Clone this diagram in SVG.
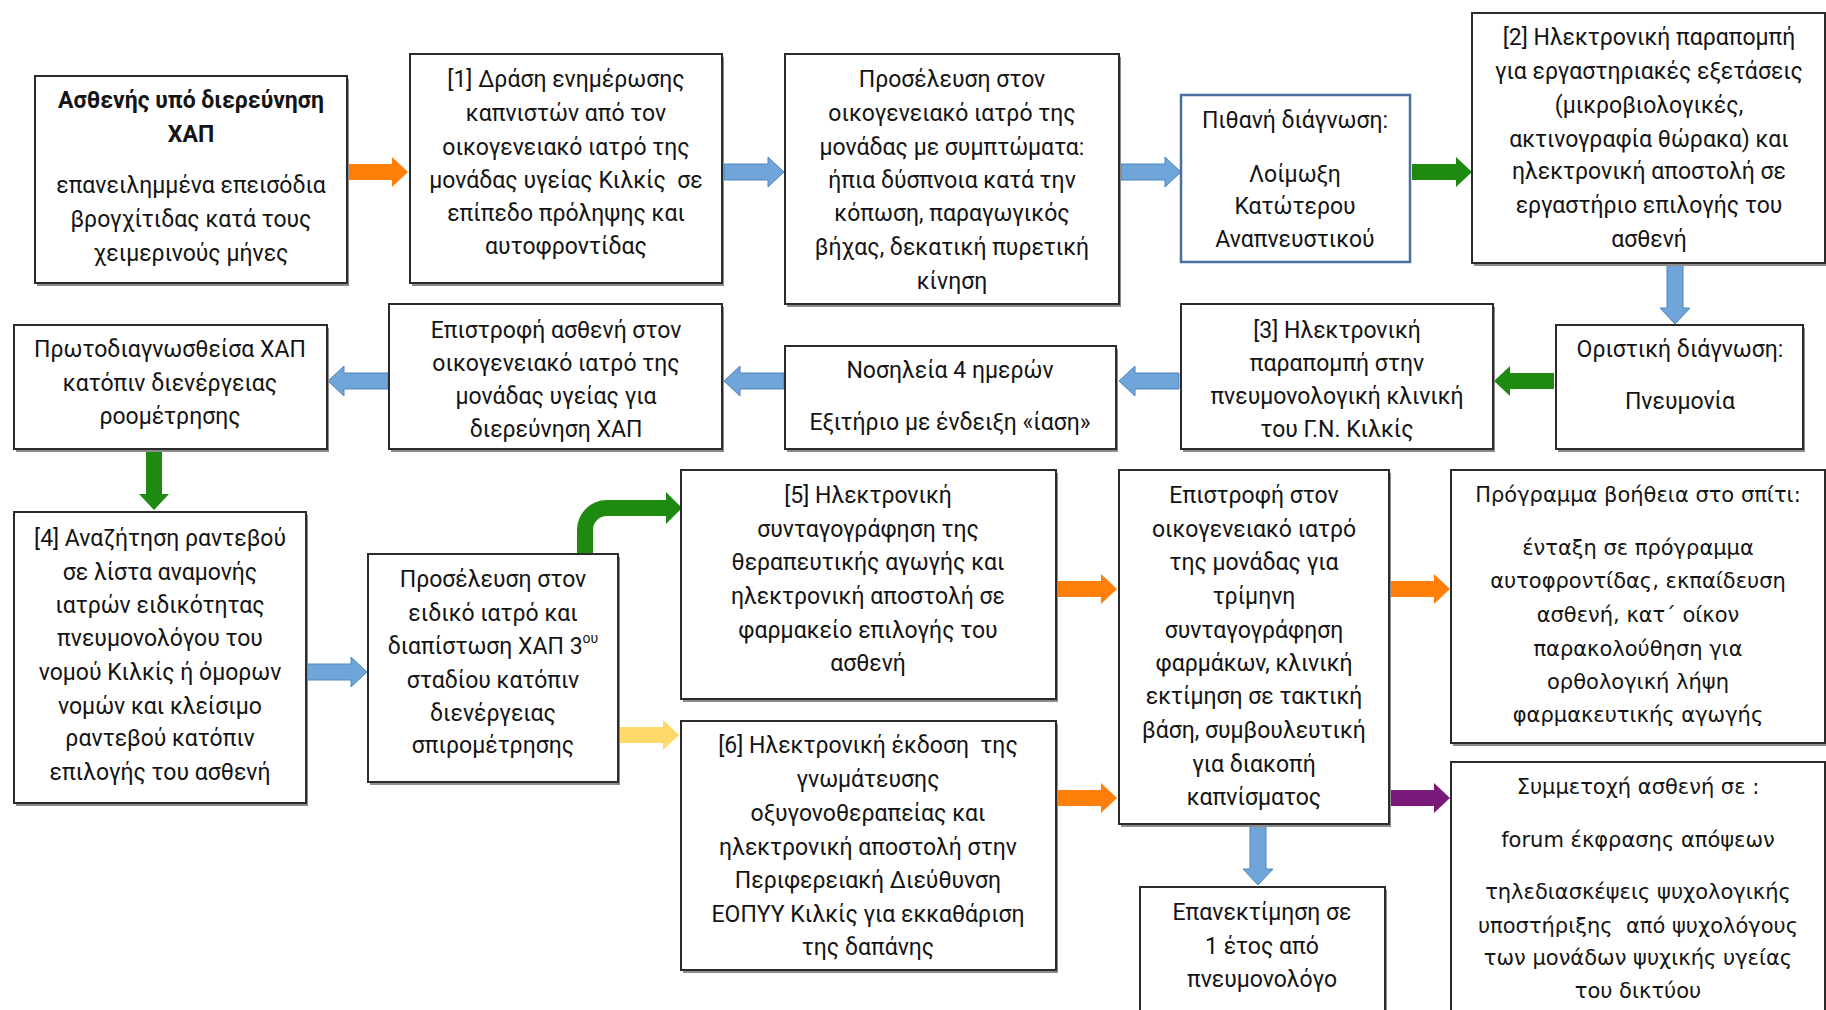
<svg xmlns="http://www.w3.org/2000/svg" xmlns:xlink="http://www.w3.org/1999/xlink" width="1826" height="1010" viewBox="0 0 1826 1010">
<defs>
<path id="arr" d="M0,-8 H44 V-15 L60,0 L44,15 V8 H0 Z"/>
<style>
.bx{fill:#fff;stroke:#2b2b2b;stroke-width:2}
.sh{fill:#8c8c8c}
.bxd{fill:#fff;stroke:#4a6fa0;stroke-width:2.5}
text{font-family:Roboto,"Noto Sans",sans-serif;font-size:23px;fill:#141414;text-anchor:middle;dominant-baseline:central}
.v{font-family:"DejaVu Sans",Verdana,sans-serif;font-size:21px}
.b{font-weight:bold}
.or{fill:#ff7f0a}
.bl{fill:#6fa5d8;stroke:#4f86bd;stroke-width:1}
.gr{fill:#1f8a10}
.ye{fill:#ffd86a}
.pu{fill:#7a1b7c}
</style>
</defs>
<rect width="1826" height="1010" fill="#fff"/>

<g id="connectors">
<use xlink:href="#arr" class="or" transform="translate(348,172)"/>
<use xlink:href="#arr" class="bl" transform="translate(724,172)"/>
<use xlink:href="#arr" class="bl" transform="translate(1121,172)"/>
<use xlink:href="#arr" class="gr" transform="translate(1412,172)"/>
<use xlink:href="#arr" class="bl" transform="translate(1675,264) rotate(90)"/>
<use xlink:href="#arr" class="gr" transform="translate(1554,381) rotate(180)"/>
<use xlink:href="#arr" class="bl" transform="translate(1179,381) rotate(180)"/>
<use xlink:href="#arr" class="bl" transform="translate(784,381) rotate(180)"/>
<use xlink:href="#arr" class="bl" transform="translate(388,381) rotate(180)"/>
<use xlink:href="#arr" class="gr" transform="translate(154,450) rotate(90)"/>
<use xlink:href="#arr" class="bl" transform="translate(307,672)"/>
<path d="M585,556 V530 A22,22 0 0 1 607,508 H668" fill="none" stroke="#1f8a10" stroke-width="16"/>
<polygon points="666,492 682,508 666,524" class="gr"/>
<use xlink:href="#arr" class="ye" transform="translate(619,735)"/>
<use xlink:href="#arr" class="or" transform="translate(1057,589)"/>
<use xlink:href="#arr" class="or" transform="translate(1057,798)"/>
<use xlink:href="#arr" class="or" transform="translate(1390,589)"/>
<use xlink:href="#arr" class="pu" transform="translate(1390,798)"/>
<use xlink:href="#arr" class="bl" transform="translate(1258,825) rotate(90)"/>
</g>

<g id="nA">
<rect class="sh" x="37" y="79" width="312" height="207"/>
<rect class="bx" x="35" y="76" width="312" height="207"/>
<text class="b" x="191" y="100">Ασθενής υπό διερεύνηση</text>
<text class="b" x="191" y="134">ΧΑΠ</text>
<text x="191" y="185">επανειλημμένα επεισόδια</text>
<text x="191" y="219">βρογχίτιδας κατά τους</text>
<text x="191" y="253">χειμερινούς μήνες</text>
</g>

<g id="nB">
<rect class="sh" x="412" y="57" width="312" height="229"/>
<rect class="bx" x="410" y="54" width="312" height="229"/>
<text x="566" y="79">[1] Δράση ενημέρωσης</text>
<text x="566" y="113">καπνιστών από τον</text>
<text x="566" y="147">οικογενειακό ιατρό της</text>
<text x="566" y="180" xml:space="preserve">μονάδας υγείας Κιλκίς  σε</text>
<text x="566" y="213">επίπεδο πρόληψης και</text>
<text x="566" y="246">αυτοφροντίδας</text>
</g>

<g id="nC">
<rect class="sh" x="787" y="57" width="334" height="250"/>
<rect class="bx" x="785" y="54" width="334" height="250"/>
<text x="952" y="79">Προσέλευση στον</text>
<text x="952" y="113">οικογενειακό ιατρό της</text>
<text x="952" y="147">μονάδας με συμπτώματα:</text>
<text x="952" y="180">ήπια δύσπνοια κατά την</text>
<text x="952" y="213">κόπωση, παραγωγικός</text>
<text x="952" y="247">βήχας, δεκατική πυρετική</text>
<text x="952" y="281">κίνηση</text>
</g>

<g id="nD">
<rect class="bxd" x="1181" y="95" width="229" height="167"/>
<text x="1295" y="120">Πιθανή διάγνωση:</text>
<text x="1295" y="174">Λοίμωξη</text>
<text x="1295" y="206">Κατώτερου</text>
<text x="1295" y="239">Αναπνευστικού</text>
</g>

<g id="nE">
<rect class="sh" x="1474" y="16" width="352" height="250"/>
<rect class="bx" x="1472" y="13" width="353" height="250"/>
<text x="1649" y="37">[2] Ηλεκτρονική παραπομπή</text>
<text x="1649" y="71">για εργαστηριακές εξετάσεις</text>
<text x="1649" y="105">(μικροβιολογικές,</text>
<text x="1649" y="139">ακτινογραφία θώρακα) και</text>
<text x="1649" y="171">ηλεκτρονική αποστολή σε</text>
<text x="1649" y="205">εργαστήριο επιλογής του</text>
<text x="1649" y="239">ασθενή</text>
</g>

<g id="nF">
<rect class="sh" x="16" y="328" width="313" height="124"/>
<rect class="bx" x="14" y="325" width="313" height="124"/>
<text x="170" y="349">Πρωτοδιαγνωσθείσα ΧΑΠ</text>
<text x="170" y="383">κατόπιν διενέργειας</text>
<text x="170" y="416">ροομέτρησης</text>
</g>

<g id="nG">
<rect class="sh" x="391" y="307" width="333" height="145"/>
<rect class="bx" x="389" y="304" width="333" height="145"/>
<text x="556" y="330">Επιστροφή ασθενή στον</text>
<text x="556" y="363">οικογενειακό ιατρό της</text>
<text x="556" y="396">μονάδας υγείας για</text>
<text x="556" y="429">διερεύνηση ΧΑΠ</text>
</g>

<g id="nH">
<rect class="sh" x="787" y="349" width="331" height="103"/>
<rect class="bx" x="785" y="346" width="331" height="103"/>
<text x="950" y="370">Νοσηλεία 4 ημερών</text>
<text x="950" y="422">Εξιτήριο με ένδειξη «ίαση»</text>
</g>

<g id="nI">
<rect class="sh" x="1183" y="307" width="312" height="145"/>
<rect class="bx" x="1181" y="304" width="312" height="145"/>
<text x="1337" y="330">[3] Ηλεκτρονική</text>
<text x="1337" y="363">παραπομπή στην</text>
<text x="1337" y="396">πνευμονολογική κλινική</text>
<text x="1337" y="429">του Γ.Ν. Κιλκίς</text>
</g>

<g id="nJ">
<rect class="sh" x="1558" y="328" width="247" height="124"/>
<rect class="bx" x="1556" y="325" width="247" height="124"/>
<text x="1680" y="349">Οριστική διάγνωση:</text>
<text x="1680" y="401">Πνευμονία</text>
</g>

<g id="nK">
<rect class="sh" x="16" y="515" width="292" height="291"/>
<rect class="bx" x="14" y="512" width="292" height="291"/>
<text x="160" y="538">[4] Αναζήτηση ραντεβού</text>
<text x="160" y="572">σε λίστα αναμονής</text>
<text x="160" y="605">ιατρών ειδικότητας</text>
<text x="160" y="638">πνευμονολόγου του</text>
<text x="160" y="672">νομού Κιλκίς ή όμορων</text>
<text x="160" y="706">νομών και κλείσιμο</text>
<text x="160" y="738">ραντεβού κατόπιν</text>
<text x="160" y="772">επιλογής του ασθενή</text>
</g>

<g id="nL">
<rect class="sh" x="370" y="557" width="250" height="228"/>
<rect class="bx" x="368" y="554" width="250" height="228"/>
<text x="493" y="579">Προσέλευση στον</text>
<text x="493" y="613">ειδικό ιατρό και</text>
<text x="493" y="646">διαπίστωση ΧΑΠ 3<tspan font-size="14" dy="-8">ου</tspan></text>
<text x="493" y="680">σταδίου κατόπιν</text>
<text x="493" y="713">διενέργειας</text>
<text x="493" y="745">σπιρομέτρησης</text>
</g>

<g id="nM">
<rect class="sh" x="683" y="473" width="375" height="229"/>
<rect class="bx" x="681" y="470" width="375" height="229"/>
<text x="868" y="495">[5] Ηλεκτρονική</text>
<text x="868" y="529">συνταγογράφηση της</text>
<text x="868" y="562">θεραπευτικής αγωγής και</text>
<text x="868" y="596">ηλεκτρονική αποστολή σε</text>
<text x="868" y="630">φαρμακείο επιλογής του</text>
<text x="868" y="663">ασθενή</text>
</g>

<g id="nN">
<rect class="sh" x="683" y="724" width="375" height="249"/>
<rect class="bx" x="681" y="721" width="375" height="249"/>
<text x="868" y="745" xml:space="preserve">[6] Ηλεκτρονική έκδοση  της</text>
<text x="868" y="779">γνωμάτευσης</text>
<text x="868" y="813">οξυγονοθεραπείας και</text>
<text x="868" y="847">ηλεκτρονική αποστολή στην</text>
<text x="868" y="880">Περιφερειακή Διεύθυνση</text>
<text x="868" y="914">ΕΟΠΥΥ Κιλκίς για εκκαθάριση</text>
<text x="868" y="947">της δαπάνης</text>
</g>

<g id="nO">
<rect class="sh" x="1121" y="473" width="270" height="354"/>
<rect class="bx" x="1119" y="470" width="270" height="354"/>
<text x="1254" y="495">Επιστροφή στον</text>
<text x="1254" y="529">οικογενειακό ιατρό</text>
<text x="1254" y="562">της μονάδας για</text>
<text x="1254" y="596">τρίμηνη</text>
<text x="1254" y="630">συνταγογράφηση</text>
<text x="1254" y="663">φαρμάκων, κλινική</text>
<text x="1254" y="696">εκτίμηση σε τακτική</text>
<text x="1254" y="730">βάση, συμβουλευτική</text>
<text x="1254" y="764">για διακοπή</text>
<text x="1254" y="797">καπνίσματος</text>
</g>

<g id="nP">
<rect class="sh" x="1142" y="890" width="245" height="130"/>
<rect class="bx" x="1140" y="887" width="245" height="130"/>
<text x="1262" y="912">Επανεκτίμηση σε</text>
<text x="1262" y="946">1 έτος από</text>
<text x="1262" y="979">πνευμονολόγο</text>
</g>

<g id="nQ">
<rect class="sh" x="1453" y="473" width="373" height="273"/>
<rect class="bx" x="1451" y="470" width="374" height="273"/>
<text class="v" x="1638" y="495">Πρόγραμμα βοήθεια στο σπίτι:</text>
<text class="v" x="1638" y="548">ένταξη σε πρόγραμμα</text>
<text class="v" x="1638" y="581">αυτοφροντίδας, εκπαίδευση</text>
<text class="v" x="1638" y="615">ασθενή, κατ΄ οίκον</text>
<text class="v" x="1638" y="649">παρακολούθηση για</text>
<text class="v" x="1638" y="682">ορθολογική λήψη</text>
<text class="v" x="1638" y="715">φαρμακευτικής αγωγής</text>
</g>

<g id="nR">
<rect class="sh" x="1453" y="765" width="373" height="260"/>
<rect class="bx" x="1451" y="762" width="374" height="260"/>
<text class="v" x="1638" y="787">Συμμετοχή ασθενή σε :</text>
<text class="v" x="1638" y="840">forum έκφρασης απόψεων</text>
<text class="v" x="1638" y="892">τηλεδιασκέψεις ψυχολογικής</text>
<text class="v" x="1638" y="926" xml:space="preserve">υποστήριξης  από ψυχολόγους</text>
<text class="v" x="1638" y="958">των μονάδων ψυχικής υγείας</text>
<text class="v" x="1638" y="991">του δικτύου</text>
</g>
</svg>
